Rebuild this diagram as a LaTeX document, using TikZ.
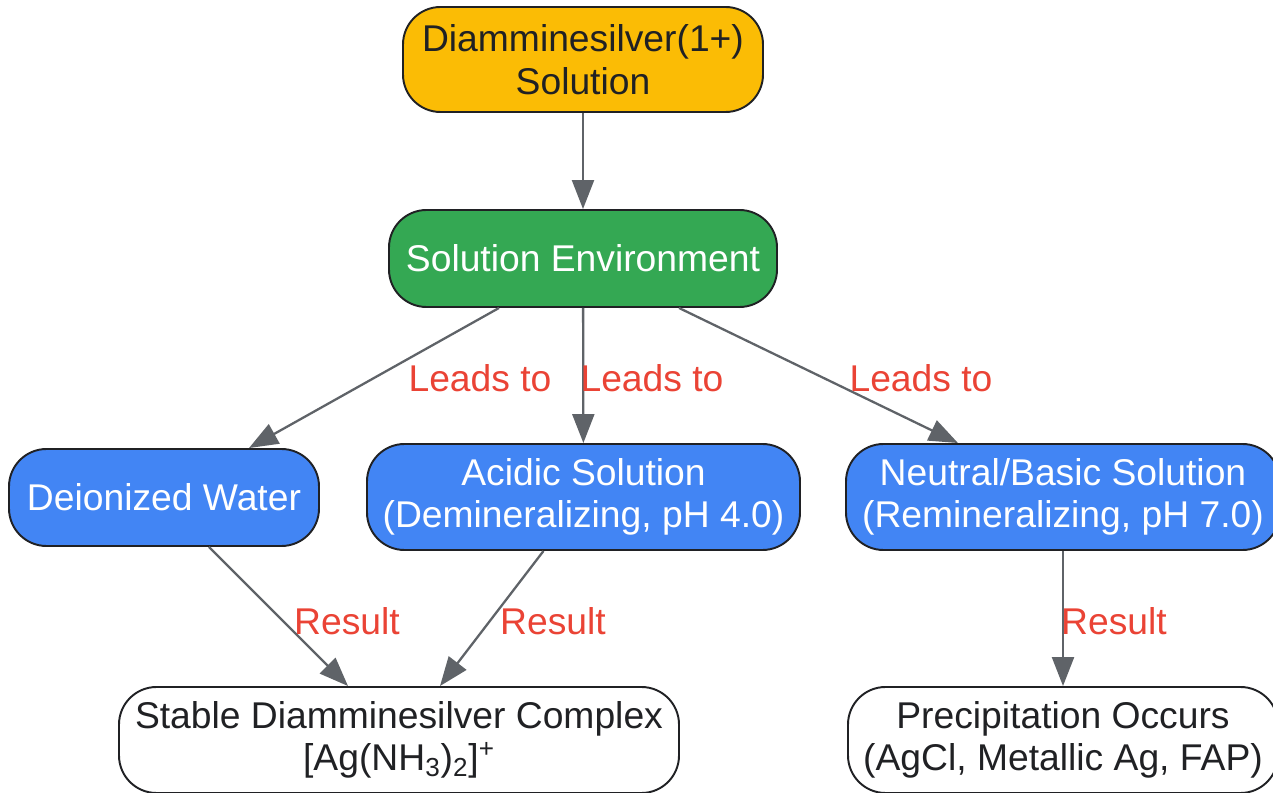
\documentclass[tikz,border=0pt]{standalone}
\usepackage{fontspec}
\setmainfont{Liberation Sans}
\usetikzlibrary{arrows.meta}
\definecolor{mystartcolor}{HTML}{FBBC05}
\definecolor{myenvcolor}{HTML}{34A853}
\definecolor{mycasecolor}{HTML}{4285F4}
\definecolor{mylabelcolor}{HTML}{EA4335}
\definecolor{myedgecolor}{HTML}{5F6368}
\definecolor{myborder}{HTML}{202124}
\tikzset{
  box/.style={draw=myborder, line width=1.1pt, rectangle, rounded corners=0.75cm, align=center, inner sep=0pt, font=\fontsize{21.2pt}{24.2pt}\selectfont},
  casebox/.style={box, fill=mycasecolor, text=white},
  endbox/.style={box, fill=white, text=myborder},
  flow/.style={draw=myedgecolor, line width=1.3pt, -{Triangle[length=0.58cm, width=0.44cm]}},
  flowlabel/.style={text=mylabelcolor, inner sep=0pt, font=\fontsize{21.2pt}{24.2pt}\selectfont}
}

\begin{document}
\begin{tikzpicture}%
\useasboundingbox (0, 0) rectangle (25.46, -15.86);%
\node[box, fill=mystartcolor, text=myborder, minimum width=7.2cm, minimum height=2.1cm] (start) at (11.66, -1.19) {Diamminesilver(1+)\\Solution};%
\node[box, fill=myenvcolor, text=white, minimum width=7.76cm, minimum height=1.94cm] (env) at (11.66, -5.17) {Solution Environment};%
\node[casebox, minimum width=6.2cm, minimum height=1.94cm] (water) at (3.28, -9.95) {Deionized Water};%
\node[casebox, minimum width=8.66cm, minimum height=2.12cm] (acid) at (11.67, -9.94) {Acidic Solution\\(Demineralizing, pH 4.0)};%
\node[casebox, minimum width=8.68cm, minimum height=2.12cm] (basic) at (21.26, -9.94) {Neutral/Basic Solution\\(Remineralizing, pH 7.0)};%
\node[endbox, minimum width=11.2cm, minimum height=2.12cm] (stable) at (7.98, -14.8) {Stable Diamminesilver Complex\\{}[Ag(NH\textsubscript{3})\textsubscript{2}]\textsuperscript{+}};%
\node[endbox, minimum width=8.6cm, minimum height=2.12cm] (precip) at (21.26, -14.8) {Precipitation Occurs\\(AgCl, Metallic Ag, FAP)};%
\draw[flow] (start) -- (env);%
\draw[flow] ([xshift=-1.68cm]env.south) -- ([xshift=1.7cm]water.north);%
\draw[flow] (env) -- (acid);%
\draw[flow] ([xshift=1.92cm]env.south) -- ([xshift=-2.1cm]basic.north);%
\draw[flow] ([xshift=0.9cm]water.south) -- ([xshift=-1.02cm]stable.north);%
\draw[flow] ([xshift=-0.8cm]acid.south) -- ([xshift=0.82cm]stable.north);%
\draw[flow] (basic) -- (precip);%
\node[flowlabel] (lead1) at (9.6, -7.56) {Leads to};%
\node[flowlabel] (lead2) at (13.04, -7.56) {Leads to};%
\node[flowlabel] (lead3) at (18.42, -7.56) {Leads to};%
\node[flowlabel] (res1) at (6.94, -12.42) {Result};%
\node[flowlabel] (res2) at (11.06, -12.42) {Result};%
\node[flowlabel] (res3) at (22.28, -12.42) {Result};%
\end{tikzpicture}
\end{document}
